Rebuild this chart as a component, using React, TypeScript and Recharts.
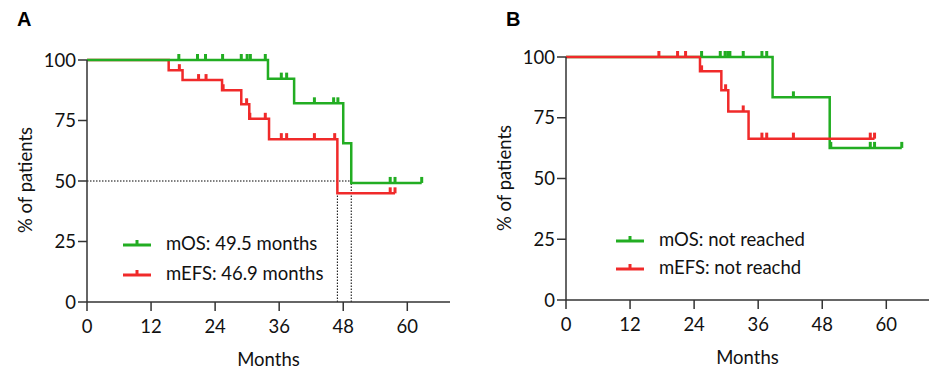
import React from "react";
import {
  LineChart,
  Line,
  XAxis,
  YAxis,
  ReferenceLine,
} from "recharts";

const X_TICKS = [0, 12, 24, 36, 48, 60];
const Y_TICKS = [0, 25, 50, 75, 100];

const GREEN = "#22ad22";
const RED = "#f02a2a";
const FONT = "Lato, 'Open Sans', sans-serif";

// Panel A - overall survival
const osA_stepTimes = [0, 33.9, 38.8, 48.0, 49.5];
const osA_stepValues = [100, 92.3, 82.1, 65.6, 49.2];
const osA_censorTimes = [17.2, 20.7, 22.2, 25.4, 28.9, 30.0, 30.6, 33.4, 36.4, 37.4, 42.6, 46.2, 47.0, 56.8, 57.7, 62.7];

// Panel A - event free survival
const efsA_stepTimes = [0, 15.3, 17.9, 25.3, 28.9, 30.4, 34.1, 46.9];
const efsA_stepValues = [100, 95.8, 91.7, 87.5, 81.7, 75.7, 67.3, 44.9];
const efsA_censorTimes = [17.3, 20.9, 22.3, 25.5, 29.9, 30.5, 33.4, 36.4, 37.4, 42.6, 46.4, 56.8, 57.7];

// Panel B - overall survival
const osB_stepTimes = [0, 38.7, 49.4];
const osB_stepValues = [100, 83.4, 62.6];
const osB_censorTimes = [25.4, 28.9, 29.8, 30.3, 30.7, 33.2, 36.7, 37.6, 42.6, 49.6, 57.0, 57.8, 62.9];

// Panel B - event free survival
const efsB_stepTimes = [0, 25.1, 29.1, 30.4, 34.2];
const efsB_stepValues = [100, 94.1, 86.3, 77.6, 66.4];
const efsB_censorTimes = [17.4, 20.9, 22.4, 25.4, 29.9, 33.2, 36.7, 37.6, 42.6, 57.0, 57.8];

// medians (panel A)
const MEDIAN_OS = 49.5;
const MEDIAN_EFS = 46.9;

type Pt = { t: number; s: number; c: boolean };

function buildCurve(times: number[], values: number[], censors: number[]): Pt[] {
  const pts: Pt[] = times.map((t, i) => ({ t, s: values[i], c: false }));
  censors.forEach((t) => {
    let s = values[0];
    times.forEach((st, i) => {
      if (st <= t) s = values[i];
    });
    pts.push({ t, s, c: true });
  });
  // steps before censors when same time
  return pts.sort((a, b) => a.t - b.t || Number(a.c) - Number(b.c));
}

const osA = buildCurve(osA_stepTimes, osA_stepValues, osA_censorTimes);
const efsA = buildCurve(efsA_stepTimes, efsA_stepValues, efsA_censorTimes);
const osB = buildCurve(osB_stepTimes, osB_stepValues, osB_censorTimes);
const efsB = buildCurve(efsB_stepTimes, efsB_stepValues, efsB_censorTimes);

const censorDot = (color: string) => (props: any) => {
  const { cx, cy, payload, index } = props;
  if (!payload || !payload.c) return <g key={index} />;
  return <rect key={index} x={cx - 1.5} y={cy - 6} width={3} height={6} fill={color} />;
};

function LegendBox({
  items,
  left,
  top,
  rowH,
}: {
  items: { label: string; color: string }[];
  left: number;
  top: number;
  rowH: number;
}) {
  return (
    <div style={{ position: "absolute", left, top }}>
      {items.map((it) => (
        <div key={it.label} style={{ display: "flex", alignItems: "center", height: rowH }}>
          <svg width={28} height={12} style={{ marginRight: 15 }}>
            <line x1={0} y1={8} x2={28} y2={8} stroke={it.color} strokeWidth={3} />
            <rect x={12.5} y={3} width={3} height={5} fill={it.color} />
          </svg>
          <span style={{ fontFamily: FONT, fontSize: 18.5, color: "#111" }}>{it.label}</span>
        </div>
      ))}
    </div>
  );
}

const axisLine = { stroke: "#333", strokeWidth: 1.5 };
const tickStyle = { fontFamily: FONT, fontSize: 18.5, fill: "#111" };

function Panel({
  left,
  margin,
  letter,
  curves,
  refs,
  legend,
  legendPos,
}: {
  left: number;
  margin: { top: number; right: number; bottom: number; left: number };
  letter: string;
  curves: { data: Pt[]; color: string; name: string }[];
  refs: boolean;
  legend: { label: string; color: string }[];
  legendPos: { left: number; top: number; rowH: number };
}) {
  const plotW = 476 - margin.left - margin.right;
  const plotH = 372 - margin.top - margin.bottom;
  return (
    <div style={{ position: "absolute", left, top: 0, width: 476, height: 372 }}>
      <LineChart width={476} height={372} margin={{ top: margin.top, right: margin.right, bottom: 0, left: 0 }}>
        <XAxis
          type="number"
          dataKey="t"
          domain={[0, 68]}
          ticks={X_TICKS}
          allowDataOverflow
          height={margin.bottom}
          axisLine={axisLine}
          tickLine={axisLine}
          tickSize={9}
          tickMargin={9}
          tick={tickStyle}
        />
        <YAxis
          type="number"
          dataKey="s"
          domain={[0, 100]}
          ticks={Y_TICKS}
          width={margin.left}
          axisLine={axisLine}
          tickLine={axisLine}
          tickSize={9}
          tickMargin={2}
          tick={tickStyle}
        />
        {refs && (
          <ReferenceLine
            segment={[{ x: 0, y: 50 }, { x: MEDIAN_OS, y: 50 }]}
            stroke="#000"
            strokeDasharray="1.5 1.5"
            strokeWidth={1}
          />
        )}
        {refs && (
          <ReferenceLine
            segment={[{ x: MEDIAN_EFS, y: 0 }, { x: MEDIAN_EFS, y: 50 }]}
            stroke="#000"
            strokeDasharray="1.5 1.5"
            strokeWidth={1}
          />
        )}
        {refs && (
          <ReferenceLine
            segment={[{ x: MEDIAN_OS, y: 0 }, { x: MEDIAN_OS, y: 50 }]}
            stroke="#000"
            strokeDasharray="1.5 1.5"
            strokeWidth={1}
          />
        )}
        {curves.map((cv) => (
          <Line
            key={cv.name}
            data={cv.data}
            dataKey="s"
            name={cv.name}
            type="stepAfter"
            stroke={cv.color}
            strokeWidth={2.5}
            dot={censorDot(cv.color)}
            activeDot={false}
            isAnimationActive={false}
          />
        ))}
      </LineChart>
      <div
        style={{
          position: "absolute",
          left: letter === "A" ? 17 : 30,
          top: 8,
          fontFamily: "'Liberation Sans', Arial, sans-serif",
          fontWeight: "bold",
          fontSize: 20,
        }}
      >
        {letter}
      </div>
      <div
        style={{
          position: "absolute",
          left: margin.left - 62 - 80,
          top: margin.top + plotH / 2 - 12,
          width: 160,
          textAlign: "center",
          transform: "rotate(-90deg)",
          fontFamily: FONT,
          fontSize: 18.5,
          color: "#111",
        }}
      >
        % of patients
      </div>
      <div
        style={{
          position: "absolute",
          left: margin.left + plotW / 2 - 70,
          top: 372 - margin.bottom + 46,
          width: 140,
          textAlign: "center",
          fontFamily: FONT,
          fontSize: 18.5,
          color: "#111",
        }}
      >
        Months
      </div>
      <LegendBox items={legend} left={legendPos.left} top={legendPos.top} rowH={legendPos.rowH} />
    </div>
  );
}

export default function App() {
  return (
    <div style={{ position: "absolute", left: 0, top: 0, width: 952, height: 372, background: "#fff" }}>
      <Panel
        left={0}
        letter="A"
        margin={{ top: 60, right: 26, bottom: 70, left: 87 }}
        curves={[
          { data: efsA, color: RED, name: "mEFS" },
          { data: osA, color: GREEN, name: "mOS" },
        ]}
        refs
        legend={[
          { label: "mOS: 49.5 months", color: GREEN },
          { label: "mEFS: 46.9 months", color: RED },
        ]}
        legendPos={{ left: 123, top: 228, rowH: 30 }}
      />
      <Panel
        left={476}
        letter="B"
        margin={{ top: 57, right: 23, bottom: 72, left: 90 }}
        curves={[
          { data: osB, color: GREEN, name: "mOS" },
          { data: efsB, color: RED, name: "mEFS" },
        ]}
        refs={false}
        legend={[
          { label: "mOS: not reached", color: GREEN },
          { label: "mEFS: not reachd", color: RED },
        ]}
        legendPos={{ left: 140, top: 225, rowH: 28 }}
      />
    </div>
  );
}
